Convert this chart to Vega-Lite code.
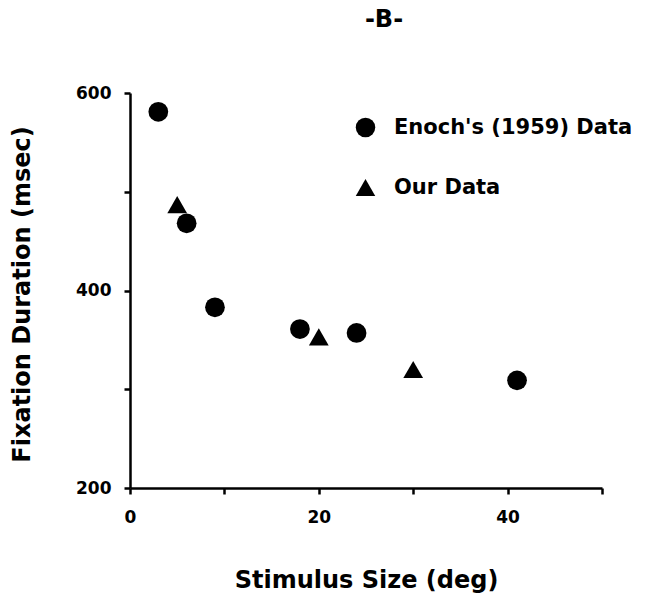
{
  "$schema": "https://vega.github.io/schema/vega-lite/v6.json",
  "width": 472,
  "height": 395,
  "autosize": "none",
  "padding": {"left": 130, "top": 93, "right": 44, "bottom": 122},
  "background": "white",
  "title": {
    "text": "-B-",
    "fontSize": 24,
    "font": "DejaVu Sans",
    "fontWeight": "bold",
    "color": "black",
    "anchor": "middle",
    "offset": 52,
    "dx": 18
  },
  "data": {
    "values": [
      {"size": 3, "duration": 581, "source": "Enoch's (1959) Data"},
      {"size": 6, "duration": 468, "source": "Enoch's (1959) Data"},
      {"size": 9, "duration": 383, "source": "Enoch's (1959) Data"},
      {"size": 18, "duration": 361, "source": "Enoch's (1959) Data"},
      {"size": 24, "duration": 357, "source": "Enoch's (1959) Data"},
      {"size": 41, "duration": 309, "source": "Enoch's (1959) Data"},
      {"size": 5, "duration": 487, "source": "Our Data"},
      {"size": 20, "duration": 353, "source": "Our Data"},
      {"size": 30, "duration": 320, "source": "Our Data"}
    ]
  },
  "mark": {"type": "point", "filled": true, "opacity": 1, "color": "black", "strokeWidth": 0, "size": 390},
  "encoding": {
    "x": {
      "field": "size",
      "type": "quantitative",
      "scale": {"domain": [0, 50], "nice": false},
      "axis": {
        "title": "Stimulus Size (deg)",
        "values": [0, 10, 20, 30, 40, 50],
        "labelExpr": "datum.value % 20 == 0 ? datum.label : ''",
        "grid": false,
        "domainColor": "black",
        "domainWidth": 2.5,
        "tickColor": "black",
        "tickWidth": 2.5,
        "tickSize": 6,
        "labelFont": "DejaVu Sans",
        "labelFontWeight": "bold",
        "labelFontSize": 17,
        "labelColor": "black",
        "labelPadding": 15,
        "labelFlush": false,
        "titleFont": "DejaVu Sans",
        "titleFontWeight": "bold",
        "titleFontSize": 24,
        "titleColor": "black",
        "titleY": 80
      }
    },
    "y": {
      "field": "duration",
      "type": "quantitative",
      "scale": {"domain": [200, 600], "nice": false, "zero": false},
      "axis": {
        "title": "Fixation Duration (msec)",
        "values": [200, 300, 400, 500, 600],
        "labelExpr": "datum.value % 200 == 0 ? datum.label : ''",
        "grid": false,
        "domainColor": "black",
        "domainWidth": 2.5,
        "tickColor": "black",
        "tickWidth": 2.5,
        "tickSize": 6,
        "labelFont": "DejaVu Sans",
        "labelFontWeight": "bold",
        "labelFontSize": 17,
        "labelColor": "black",
        "labelPadding": 13,
        "labelFlush": false,
        "titleFont": "DejaVu Sans",
        "titleFontWeight": "bold",
        "titleFontSize": 24,
        "titleColor": "black",
        "titleX": -96,
        "titleY": 201
      }
    },
    "shape": {
      "field": "source",
      "type": "nominal",
      "scale": {"domain": ["Enoch's (1959) Data", "Our Data"], "range": ["circle", "triangle-up"]},
      "legend": {
        "title": null,
        "orient": "none",
        "legendX": 225,
        "legendY": 24,
        "symbolFillColor": "black",
        "symbolStrokeWidth": 0,
        "symbolSize": 380,
        "symbolOpacity": 1,
        "labelFont": "DejaVu Sans",
        "labelFontWeight": "bold",
        "labelFontSize": 21,
        "labelColor": "black",
        "labelOffset": 18,
        "rowPadding": 38,
        "labelLimit": 400
      }
    }
  },
  "config": {"view": {"stroke": null}}
}
